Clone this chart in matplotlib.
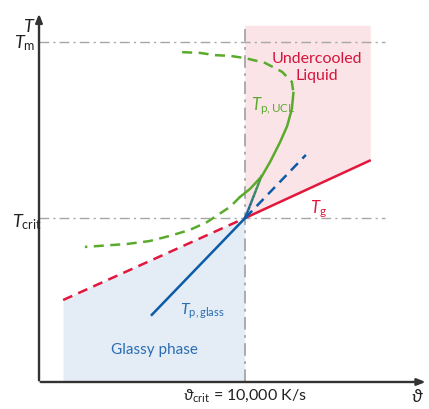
import matplotlib.pyplot as plt
from matplotlib.collections import LineCollection
import numpy as np

plt.rcParams['font.family'] = ['Lato', 'DejaVu Sans']
plt.rcParams['mathtext.fontset'] = 'custom'
plt.rcParams['mathtext.rm'] = 'Lato'
plt.rcParams['mathtext.it'] = 'Lato:italic'

# conceptual chart: cooling rate (x) vs temperature (y), arbitrary units
rate_crit = 53.0
T_crit = 44.2
T_m = 91.6
rate_max = 85.3
T_top = 96.0
rate_left = 6.3

# glass transition line T_g
tg_dash_x = [6.2, rate_crit]
tg_dash_y = [22.1, T_crit]
tg_x = [rate_crit, 85.3]
tg_y = [T_crit, 59.8]

# peak temperature of glass
glass_x = [29.0, rate_crit]
glass_y = [18.1, T_crit]
glass_dash_x = [rate_crit, 68.6]
glass_dash_y = [T_crit, 61.2]
link_x = [rate_crit, 57.3]
link_y = [T_crit, 55.8]

# peak temperature of undercooled liquid (nose shaped curve)
ucl_top_x = [36.8, 41.4, 45.2, 49.1, 53.0, 58.1, 62.5, 65.0, 65.4]
ucl_top_y = [88.9, 88.7, 88.1, 87.9, 87.3, 86.0, 83.6, 80.9, 77.9]
ucl_x = [65.4, 65.0, 63.8, 62.0, 59.4, 57.3, 54.2, 51.7]
ucl_y = [77.9, 73.6, 69.0, 64.7, 59.3, 55.5, 52.0, 49.9]
ucl_low_x = [51.7, 49.1, 43.2, 38.8, 33.7, 28.5, 22.6, 11.8]
ucl_low_y = [49.9, 47.2, 43.1, 41.0, 39.4, 38.0, 37.2, 36.4]

red = '#e2173b'
blue = '#0c5ba8'
green = '#5aab2c'
grey = '#a6a6a6'

fig = plt.figure(figsize=(4.29, 4.10), dpi=100)
ax = fig.add_axes([0, 0, 1, 1])
ax.set_xlim(-10.03, 100.26)
ax.set_ylim(-7.28, 103.23)
ax.axis('off')

# shaded regions
ax.fill([rate_crit, rate_max, rate_max, rate_crit],
        [T_top, T_top, tg_y[1], T_crit], color='#fbe4e7', lw=0)
ax.fill([rate_left, rate_left, rate_crit, rate_crit],
        [0, tg_dash_y[0], T_crit, 0], color='#e4ecf5', lw=0)

# reference lines
dashdot = (0, (7, 3, 1.5, 3))
ax.plot([0, 88.9], [T_m, T_m], color=grey, lw=1, ls=dashdot)
ax.plot([0, 88.9], [T_crit, T_crit], color=grey, lw=1, ls=dashdot)
ax.plot([rate_crit, rate_crit], [0, T_top], color=grey, lw=1.3, ls=dashdot)

dash = (0, (4, 2.6))
ax.plot(tg_dash_x, tg_dash_y, color=red, lw=1.8, ls=dash)
ax.plot(tg_x, tg_y, color=red, lw=1.8, solid_capstyle='butt')

ax.plot(glass_x, glass_y, color=blue, lw=1.8)
ax.plot(glass_dash_x, glass_dash_y, color=blue, lw=1.8, ls=dash)

ax.plot(ucl_top_x, ucl_top_y, color=green, lw=1.8, ls=dash)
ax.plot(ucl_x, ucl_y, color=green, lw=1.8)
ax.plot(ucl_low_x, ucl_low_y, color=green, lw=1.8, ls=dash)

# blue to green link between glass line and UCL curve
t = np.linspace(0, 1, 12)
lx = link_x[0] + t * (link_x[1] - link_x[0])
ly = link_y[0] + t * (link_y[1] - link_y[0])
segs = [[(lx[i], ly[i]), (lx[i + 1], ly[i + 1])] for i in range(len(t) - 1)]
cols = [(0.05 + 0.3 * s, 0.36 + 0.31 * s, 0.66 - 0.49 * s) for s in t[:-1]]
ax.add_collection(LineCollection(segs, colors=cols, lw=1.8))

# axes with arrows
ax.annotate('', xy=(0, 100), xytext=(0, -0.3),
            arrowprops=dict(arrowstyle='-|>,head_width=0.2,head_length=0.5', color='#333333', lw=1.7))
ax.annotate('', xy=(100.1, 0), xytext=(-0.3, 0),
            arrowprops=dict(arrowstyle='-|>,head_width=0.2,head_length=0.5', color='#333333', lw=1.7))

# labels
ax.text(-2.6, 94.6, '$T$', fontsize=13, ha='center', va='baseline', color='#222222')
ax.text(-3.8, 90.2, r'$T_{\mathrm{m}}$', fontsize=13, ha='center', va='baseline', color='#222222')
ax.text(-3.2, 42.0, r'$T_{\mathrm{crit}}$', fontsize=13, ha='center', va='baseline', color='#222222')
ax.text(97.2, -3.6, r'$\vartheta$', fontsize=13, ha='center', va='center', color='#222222')
ax.text(rate_crit, -3.4, r'$\vartheta_{\mathrm{crit}}$ = 10,000 K/s', fontsize=11.5,
        ha='center', va='center', color='#222222')

ax.text(71.5, 85.0, 'Undercooled\nLiquid', fontsize=11.5, ha='center', va='center',
        color='#d4153c', linespacing=1.25)
ax.text(54.5, 74.5, r'$T_{\mathrm{p,UCL}}$', fontsize=12, color=green, va='center')
ax.text(69.6, 46.8, r'$T_{\mathrm{g}}$', fontsize=12, color=red, va='center')
ax.text(36.3, 19.2, r'$T_{\mathrm{p,glass}}$', fontsize=11.5, color='#2a6db3', va='center')
ax.text(29.8, 8.9, 'Glassy phase', fontsize=11, ha='center', va='center', color='#2a6db3')

fig.savefig('out.png', dpi=100)
